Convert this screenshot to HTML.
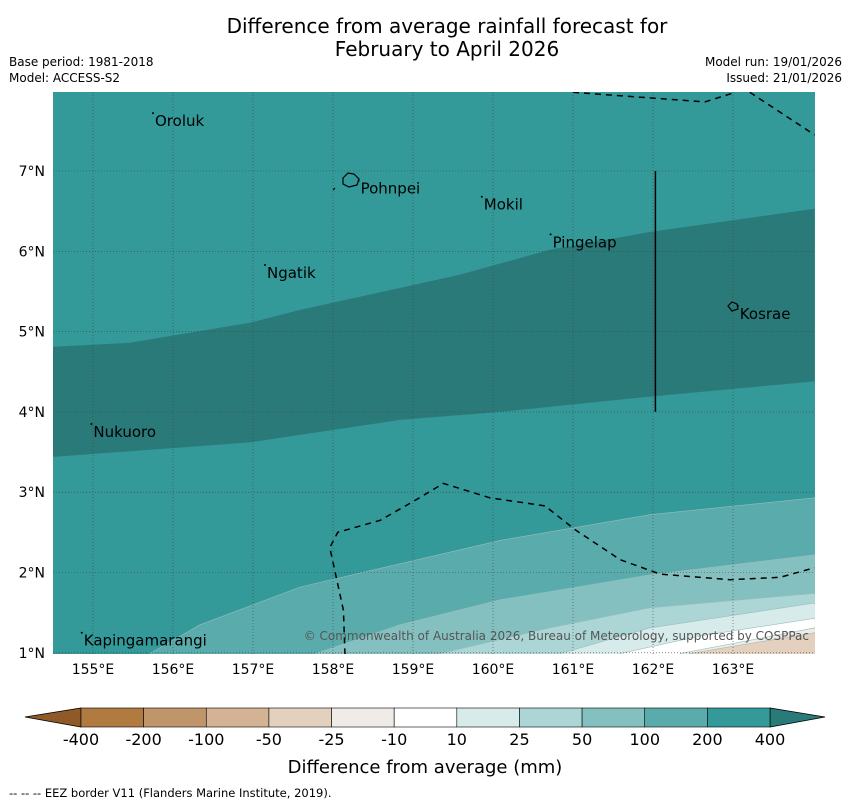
<!DOCTYPE html>
<html><head><meta charset="utf-8"><style>
body{margin:0;background:#fff;font-family:"Liberation Sans",sans-serif;}
svg text{font-family:"DejaVu Sans","Liberation Sans",sans-serif;}
</style></head><body>
<svg id="c" width="850" height="804" xmlns="http://www.w3.org/2000/svg">
<text x="447" y="33" font-size="20" text-anchor="middle">Difference from average rainfall forecast for</text>
<text x="447" y="56" font-size="20" text-anchor="middle">February to April 2026</text>
<text x="9" y="66" font-size="12">Base period: 1981-2018</text>
<text x="9" y="82" font-size="12">Model: ACCESS-S2</text>
<text x="842" y="66" font-size="12" text-anchor="end">Model run: 19/01/2026</text>
<text x="842" y="82" font-size="12" text-anchor="end">Issued: 21/01/2026</text>
<defs><clipPath id="pc"><rect x="53" y="92" width="762" height="562"/></clipPath></defs>
<g id="map" clip-path="url(#pc)"></g>
<g id="axes"></g>
<g id="cbar"></g>
<text x="425" y="773" font-size="18" text-anchor="middle">Difference from average (mm)</text>
<text x="9" y="797" font-size="11.5">--  --  -- EEZ border V11 (Flanders Marine Institute, 2019).</text>
</svg>
<script>
const NS="http://www.w3.org/2000/svg";
const lonTicks=[155,156,157,158,159,160,161,162,163];
const latTicks=[1,2,3,4,5,6,7];
const darkTop=[[154.5,4.81],[155.46,4.86],[156.96,5.11],[157.59,5.27],[159.59,5.71],[160.71,6.02],[161.96,6.24],[164.02,6.53]];
const darkBottom=[[154.5,3.44],[156.96,3.62],[158.84,3.90],[160.09,4.00],[161.96,4.19],[164.02,4.38]];
const b100=[[155.71,0.99],[156.34,1.35],[157.59,1.82],[160.09,2.40],[161.96,2.72],[164.02,2.93]];
const b50=[[157.78,0.99],[158.84,1.35],[160.09,1.66],[161.96,1.97],[164.02,2.22]];
const b25=[[159.34,0.99],[160.71,1.31],[161.96,1.56],[164.02,1.74]];
const b10=[[160.84,0.99],[161.96,1.31],[164.02,1.62]];
const bm10=[[161.59,0.99],[162.59,1.21],[164.02,1.43]];
const bm25=[[162.34,0.99],[164.02,1.31]];
const bm50=[[162.46,0.99],[164.02,1.25]];
const eez1=[[161.0,7.98],[162.65,7.86],[163.03,7.98]];
const eez2=[[163.21,7.98],[164.02,7.45]];
const eez3=[[158.15,0.98],[158.13,1.53],[157.96,2.31],[158.06,2.50],[158.59,2.65],[159.03,2.90],[159.38,3.11],[159.96,2.93],[160.65,2.83],[161.03,2.53],[161.59,2.16],[162.09,1.98],[162.96,1.91],[163.59,1.94],[164.02,2.06]];
const islands=[["Oroluk",155.75,7.72],["Pohnpei",158.32,6.88],["Mokil",159.86,6.68],["Pingelap",160.72,6.21],["Ngatik",157.15,5.83],["Kosrae",163.06,5.32],["Nukuoro",154.98,3.85],["Kapingamarangi",154.86,1.25]];
const cbLabels=["-400","-200","-100","-50","-25","-10","10","25","50","100","200","400"];
const cbColors=["#b07a40","#c0956a","#d3b394","#e3d0be","#efece7","#ffffff","#d6ebea","#acd6d5","#85c0c0","#5aabab","#339999"];
const sx=lon=>93+(lon-155)*80, sy=lat=>171-(lat-7)*80.3;
function el(t,a,p){const e=document.createElementNS(NS,t);for(const k in a)e.setAttribute(k,a[k]);(p||document.getElementById('c')).appendChild(e);return e;}
const map=document.getElementById('map');
const pts=a=>a.map(p=>sx(p[0]).toFixed(1)+","+sy(p[1]).toFixed(1)).join(" ");
let bg=el('rect',{x:53,y:92,width:762,height:562,fill:"#339999"},map);


let dk=el('polygon',{points:pts(darkTop)+" "+pts(darkBottom.slice().reverse()),fill:"#2b7a7a"},map);


const bands=[[b100,"#5aabab","band-100-200"],[b50,"#85c0c0","band-50-100"],[b25,"#acd6d5","band-25-50"],[b10,"#d6ebea","band-10-25"],[bm10,"#ffffff","band-neutral"],[bm25,"#efece7","band-minus10-25"],[bm50,"#e3d0be","band-minus25-50"]];
bands.forEach(b=>{const l=b[0];const p=pts(l)+" "+sx(l[l.length-1][0]+0.5)+","+sy(0)+" "+sx(l[0][0]-0.5)+","+sy(0);
 const e=el('polygon',{points:p,fill:b[1],stroke:"#9bbcbc","stroke-width":0.6},map);
 
 });
lonTicks.forEach(v=>{const g=el('line',{x1:sx(v),x2:sx(v),y1:92,y2:654,stroke:"#444","stroke-width":0.6,"stroke-dasharray":"1,2"},map);
 
 });
latTicks.forEach(v=>{const g=el('line',{x1:53,x2:815,y1:sy(v),y2:sy(v),stroke:"#444","stroke-width":0.6,"stroke-dasharray":"1,2"},map);
 
 });
[eez1,eez2,eez3].forEach(l=>{const e=el('polyline',{points:pts(l),fill:"none",stroke:"#000","stroke-width":1.5,"stroke-dasharray":"6,5"},map);
 
 });
let vl=el('line',{x1:sx(162.03),x2:sx(162.03),y1:sy(7),y2:sy(4),stroke:"#000","stroke-width":1.5},map);


islands.forEach(i=>{const x=sx(i[1]),y=sy(i[2]);
 const d=el('circle',{cx:x,cy:y,r:1,fill:"#000"},map);
 
 
 const t=el('text',{x:x+2,y:y+13,"font-size":15,fill:"#000"},map);t.textContent=i[0];
 
 });
let pn=el('path',{d:"M343,178 l5,-5 l6,1 l5,5 l-2,6 l-8,2 l-6,-3z M333,190 l2,-2",fill:"none",stroke:"#000","stroke-width":1.2},map);


let ks=el('path',{d:"M728,306 l4,-4 l5,2 l1,5 l-6,2z",fill:"none",stroke:"#000","stroke-width":1.2},map);


let cp=el('text',{x:809,y:640,"font-size":12,fill:"#555","text-anchor":"end"},map);cp.textContent="© Commonwealth of Australia 2026, Bureau of Meteorology, supported by COSPPac";


const ax=document.getElementById('axes');
lonTicks.forEach(v=>{const t=el('text',{x:sx(v),y:674,"font-size":14,"text-anchor":"middle"},ax);t.textContent=v+"°E";
 
 });
latTicks.forEach(v=>{const t=el('text',{x:45,y:sy(v)+5,"font-size":14,"text-anchor":"end"},ax);t.textContent=v+"°N";
 
 });
const cb=document.getElementById('cbar');const x0=81,x1=770,w=(x1-x0)/cbColors.length;
let lt=el('polygon',{points:`25,717 ${x0},708 ${x0},727`,fill:"#8f5a28",stroke:"#000","stroke-width":0.8},cb);


let rt=el('polygon',{points:`825,717 ${x1},708 ${x1},727`,fill:"#2b7a7a",stroke:"#000","stroke-width":0.8},cb);


cbColors.forEach((c,i)=>{const r=el('rect',{x:x0+i*w,y:708,width:w,height:19,fill:c,stroke:"#000","stroke-width":0.6},cb);
 
 });
cbLabels.forEach((l,i)=>{const t=el('text',{x:x0+i*w,y:745,"font-size":16,"text-anchor":"middle"},cb);t.textContent=l;
 
 });
</script>
</body></html>
